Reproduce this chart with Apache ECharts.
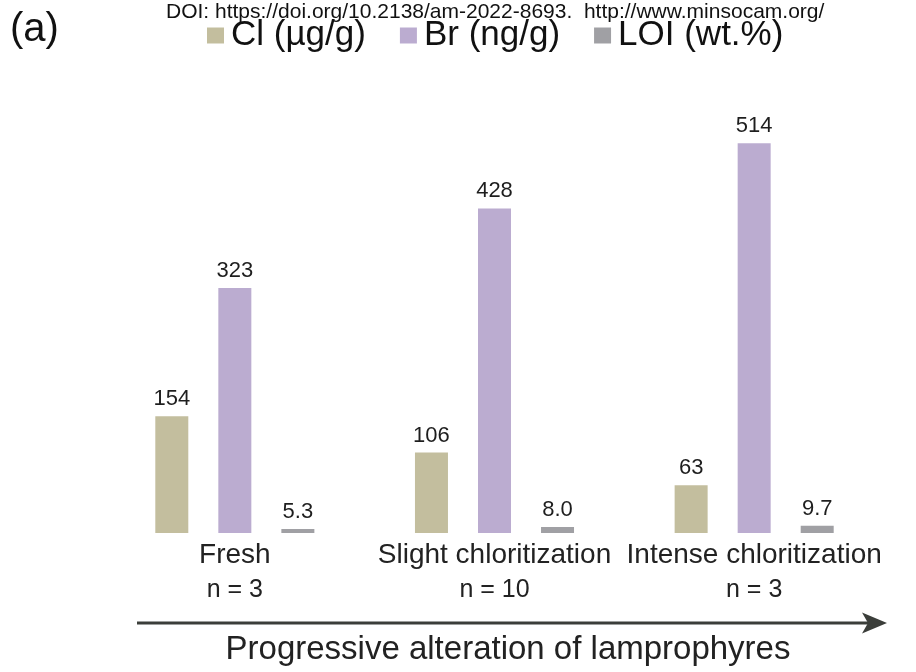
<!DOCTYPE html>
<html>
<head>
<meta charset="utf-8">
<script src="https://cdn.jsdelivr.net/npm/echarts@6/dist/echarts.min.js"></script>
<style>
  html, body { margin: 0; padding: 0; background: #ffffff; }
  #chart { width: 916px; height: 672px; }
</style>
</head>
<body>
<div id="chart"></div>
<script>
const categories = ['Fresh', 'Slight chloritization', 'Intense chloritization'];
const sampleCounts = ['n = 3', 'n = 10', 'n = 3'];
const seriesNames = ['Cl (µg/g)', 'Br (ng/g)', 'LOI (wt.%)'];
const clValues = [154, 106, 63];
const brValues = [323, 428, 514];
const loiValues = [5.3, 8.0, 9.7];
const yMax = 600;

const FONT = "'Liberation Sans', Arial, Helvetica, sans-serif";
const colors = ['#c3be9e', '#bbacd0', '#a0a0a4'];

const chart = echarts.init(document.getElementById('chart'), null, { renderer: 'canvas' });

function barSeries(name, data, color, decimals) {
  return {
    name: name,
    type: 'bar',
    data: data,
    barWidth: 33,
    barGap: '91%',
    itemStyle: { color: color },
    label: {
      show: true,
      position: 'top',
      distance: 6,
      fontFamily: FONT,
      fontSize: 22,
      color: '#1e1e1e',
      formatter: function (p) { return decimals ? p.value.toFixed(decimals) : String(p.value); }
    },
    emphasis: { disabled: true }
  };
}

const option = {
  animation: false,
  backgroundColor: '#ffffff',
  textStyle: { fontFamily: FONT },
  color: colors,
  legend: {
    left: 202,
    top: 13,
    itemWidth: 17,
    itemHeight: 16,
    itemGap: 34,
    icon: 'rect',
    selectedMode: false,
    data: seriesNames,
    textStyle: { fontFamily: FONT, fontSize: 35, color: '#111111', padding: [0, 0, 0, 2] }
  },
  grid: { left: 105, right: 32, top: 78, bottom: 139, containLabel: false },
  xAxis: {
    type: 'category',
    data: categories,
    axisLine: { show: false },
    axisTick: { show: false },
    splitLine: { show: false },
    axisLabel: {
      interval: 0,
      margin: 5,
      color: '#222222',
      formatter: function (v, i) { return '{a|' + v + '}\n{b|' + sampleCounts[i] + '}'; },
      rich: {
        a: { fontFamily: FONT, fontSize: 28, lineHeight: 35, color: '#222222' },
        b: { fontFamily: FONT, fontSize: 25, lineHeight: 35, color: '#222222' }
      }
    }
  },
  yAxis: {
    type: 'value',
    min: 0,
    max: yMax,
    show: false
  },
  series: [
    barSeries(seriesNames[0], clValues, colors[0], 0),
    barSeries(seriesNames[1], brValues, colors[1], 0),
    barSeries(seriesNames[2], loiValues, colors[2], 1)
  ],
  graphic: [
    {
      type: 'text', left: 10, top: 10,
      style: { text: '(a)', font: '40px ' + FONT, fill: '#111111' }
    },
    {
      type: 'text', left: 166, top: 2,
      style: { text: 'DOI: https://doi.org/10.2138/am-2022-8693.  http://www.minsocam.org/', font: '21px ' + FONT, fill: '#111111' }
    },
    {
      type: 'line',
      shape: { x1: 137, y1: 623, x2: 868, y2: 623 },
      style: { stroke: '#3b3e3a', lineWidth: 3 }
    },
    {
      type: 'polygon',
      shape: { points: [[887, 623], [862, 612.5], [868, 623], [862, 633.5]] },
      style: { fill: '#3b3e3a' }
    },
    {
      type: 'text', x: 508, y: 650,
      style: { text: 'Progressive alteration of lamprophyres', font: '33px ' + FONT, fill: '#222222', align: 'center', verticalAlign: 'middle' }
    }
  ]
};

chart.setOption(option);
</script>
</body>
</html>
